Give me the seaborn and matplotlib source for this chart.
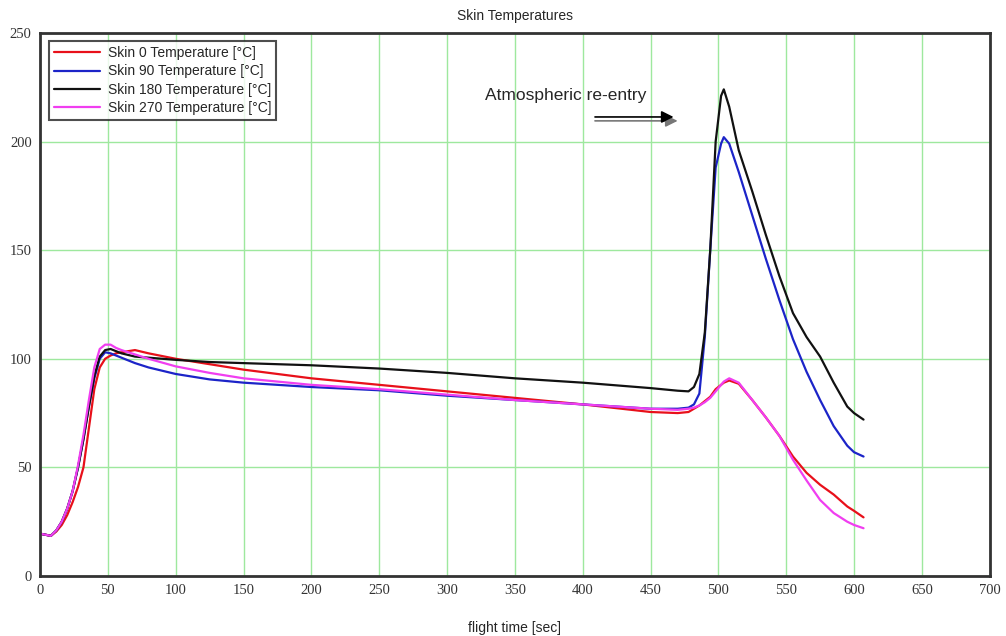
import pandas as pd
import matplotlib
matplotlib.use("Agg")
import matplotlib.pyplot as plt
import seaborn as sns

## Data
time = [0, 4, 8, 12, 16, 20, 24, 28, 32, 36, 40, 44, 48, 52, 56, 60, 70, 80, 100,
        125, 150, 200, 250, 300, 350, 400, 450, 470, 478, 482, 486, 490, 494, 498,
        502, 504, 508, 515, 525, 535, 545, 555, 565, 575, 585, 595, 600, 607]

skin_0 = [19.5, 19, 18.5, 20.5, 23.5, 28, 34, 41, 50, 68, 86, 96, 100, 101.5, 102.5, 103, 104, 102.5, 100,
          97.5, 95, 91, 88, 85, 82, 79, 75.5, 75, 75.5, 77, 78.5, 80.5, 82.5, 86,
          88, 89, 90, 88.5, 81, 73, 64.5, 55, 47.5, 42, 37.5, 32, 30, 27]

skin_90 = [19.5, 19, 18.5, 21, 25, 31, 39, 50, 63, 78, 91, 100, 103, 102.5, 101.5, 100.5, 98, 96, 93,
           90.5, 89, 87, 85.5, 83, 81, 79, 77, 77, 77.5, 79, 84, 110, 150, 188,
           199, 202, 199, 186, 166, 146, 127, 109, 94, 81, 69, 60, 57, 55]

skin_180 = [19.5, 19, 18.5, 21, 25, 31, 39, 50, 63, 78, 92, 101, 104, 104.5, 103.5, 102.5, 101, 100.5, 99.5,
            98.5, 98, 97, 95.5, 93.5, 91, 89, 86.5, 85.3, 85, 87, 93, 112, 150, 200,
            221, 224, 216, 196, 177, 157, 138, 121, 110, 101, 89, 78, 75, 72]

skin_270 = [19.5, 19, 18.5, 21, 25, 31, 39, 51, 65, 81, 96, 104.5, 106.5, 106.5, 105, 104, 102, 100, 96.5,
            93.5, 91, 88, 86, 83.5, 81, 79, 77, 76.5, 77, 77.5, 78.5, 80, 82, 85,
            88, 89.5, 91, 89, 81, 73, 64.5, 53.5, 44, 35, 29, 25, 23.5, 22]

labels = ["Skin 0 Temperature [°C]", "Skin 90 Temperature [°C]",
          "Skin 180 Temperature [°C]", "Skin 270 Temperature [°C]"]
colors = ["#e8101a", "#1c24c8", "#111111", "#f03ef0"]

frames = []
for lab, vals in zip(labels, [skin_0, skin_90, skin_180, skin_270]):
    frames.append(pd.DataFrame({"time": time, "temp": vals, "series": lab}))
df = pd.concat(frames)

sns.set_style("white")
plt.rcParams["font.family"] = ["Liberation Sans", "DejaVu Sans"]

fig = plt.figure(figsize=(10.06, 6.36), dpi=100)
ax = fig.add_axes([0.0398, 0.0943, 0.944, 0.854])

sns.lineplot(data=df, x="time", y="temp", hue="series", hue_order=labels,
             palette=dict(zip(labels, colors)), linewidth=1.6, ax=ax)

ax.set_xlim(0, 700)
ax.set_ylim(0, 250)
ax.set_xticks(range(0, 701, 50))
ax.set_yticks(range(0, 251, 50))
ax.grid(True, color="#9ee89e", linewidth=1.0)
ax.set_axisbelow(True)
ax.tick_params(length=0, pad=6, labelsize=10.5, labelcolor="#333333")
for lab in ax.get_xticklabels() + ax.get_yticklabels():
    lab.set_family(["Liberation Serif", "DejaVu Serif"])
for sp in ax.spines.values():
    sp.set_color("#333333")
    sp.set_linewidth(2)

ax.set_ylabel("")
ax.set_xlabel("flight time [sec]", fontsize=10, labelpad=17,
              family=["Liberation Sans Narrow", "Liberation Sans"])
ax.set_title("Skin Temperatures", fontsize=10, pad=9)

leg = ax.legend(loc="upper left", bbox_to_anchor=(0.002, 0.997), fontsize=10,
                frameon=True, fancybox=False, handlelength=3.3,
                borderpad=0.35, labelspacing=0.3, handletextpad=0.6)
leg.get_frame().set_edgecolor("#222222")
leg.get_frame().set_linewidth(1.5)

## Re-entry annotation
ax.text(328, 221, "Atmospheric re-entry", fontsize=12.5, va="center", ha="left")
ax.annotate("", xy=(472, 209.5), xytext=(407, 209.5),
            arrowprops=dict(arrowstyle="-|>", color="#777777", lw=1.2, mutation_scale=18))
ax.annotate("", xy=(469, 211.3), xytext=(407, 211.3),
            arrowprops=dict(arrowstyle="-|>", color="black", lw=1.2, mutation_scale=18))

fig.savefig("out.png", dpi=100)
